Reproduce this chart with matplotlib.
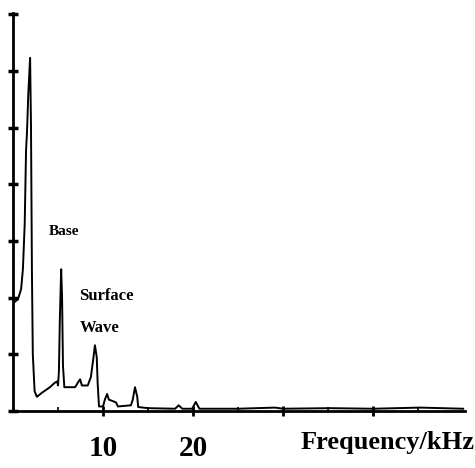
import numpy as np
import matplotlib.pyplot as plt

# spectrum (frequency in kHz, amplitude in tick units)
freq = [0.0, 0.55, 0.9, 1.1, 1.3, 1.45, 1.55, 1.7, 1.9, 2.0, 2.1, 2.2, 2.4, 2.65,
        3.2, 4.1, 4.65, 4.9, 5.0, 5.1, 5.2, 5.35, 5.45, 5.55, 5.7, 6.9, 7.2, 7.45,
        7.65, 8.3, 8.65, 8.9, 9.1, 9.3, 9.4, 9.55, 10.0, 10.2, 10.45, 10.65, 11.0,
        11.45, 11.65, 13.1, 13.3, 13.55, 13.8, 13.9, 15.0, 18.0, 18.4, 18.8, 19.9,
        20.3, 20.7, 25.0, 29.1, 30.0, 35.2, 40.0, 45.2, 50.0]
amp = [1.9, 1.97, 2.15, 2.5, 3.3, 4.6, 4.9, 5.6, 6.23, 5.0, 2.5, 1.0, 0.35, 0.25,
       0.32, 0.42, 0.5, 0.52, 0.45, 0.7, 1.6, 2.5, 2.0, 0.8, 0.42, 0.42, 0.5, 0.56,
       0.45, 0.45, 0.6, 0.9, 1.16, 0.95, 0.5, 0.08, 0.08, 0.2, 0.3, 0.2, 0.18,
       0.15, 0.08, 0.1, 0.2, 0.42, 0.25, 0.07, 0.05, 0.04, 0.1, 0.04, 0.04,
       0.16, 0.04, 0.04, 0.06, 0.04, 0.05, 0.04, 0.06, 0.04]

xticks = [10, 20, 30, 40]
xticklabels = ['10', '20', '', '']
yticks = [0, 1, 2, 3, 4, 5, 6, 7]

plt.rcParams['font.family'] = ['Liberation Serif', 'DejaVu Serif']

fig = plt.figure(figsize=(4.75, 4.68), dpi=100)
ax = fig.add_axes([13 / 475, 1 - 411 / 468, 452 / 475, 398 / 468])

ax.plot(freq, amp, color='black', lw=1.4)

ax.set_xlim(0, 50.2)
ax.set_ylim(0, 7.02)
for s in ['top', 'right']:
    ax.spines[s].set_visible(False)
for s in ['left', 'bottom']:
    ax.spines[s].set_linewidth(2)

ax.set_xticks(xticks)
ax.set_xticklabels(xticklabels, fontsize=21, fontweight='bold')
ax.set_xticks([5, 15, 25, 35, 45], minor=True)
ax.set_yticks(yticks)
ax.set_yticklabels([])
ax.tick_params(axis='x', which='major', direction='inout', length=7, width=2, pad=14)
ax.tick_params(axis='x', which='minor', direction='in', length=3, width=1.2)
ax.tick_params(axis='y', direction='inout', length=7, width=2.5)

ax.text(5.65, 3.16, 'Base', fontsize=11, fontweight='bold', ha='center', va='center')
ax.text(7.3, 2.03, 'Surface', fontsize=12, fontweight='bold', ha='left', va='center')
ax.text(7.4, 1.46, 'Wave', fontsize=12, fontweight='bold', ha='left', va='center')
ax.text(31.9, -0.55, 'Frequency/kHz', fontsize=19, fontweight='bold',
        ha='left', va='center', clip_on=False)

fig.savefig('out.png', dpi=100)
